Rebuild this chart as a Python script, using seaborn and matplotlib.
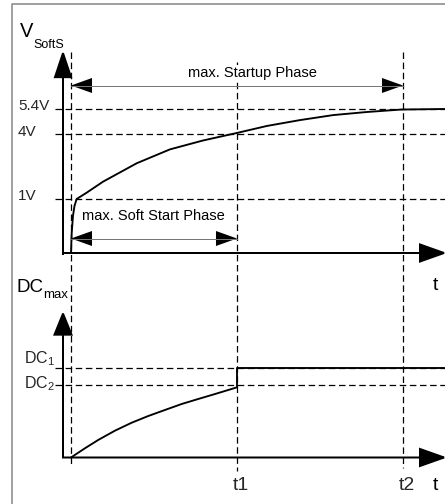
import numpy as np
import pandas as pd
import matplotlib
matplotlib.use("Agg")
import matplotlib.pyplot as plt
import matplotlib.transforms as mtransforms
from matplotlib.patches import FancyArrowPatch, ArrowStyle
from matplotlib.lines import Line2D
import seaborn as sns

# --- data ---
# soft-start voltage, time in units of t1
t_soft = [0, 0.004, 0.012, 0.021, 0.034, 0.096, 0.193, 0.396, 0.596, 0.795,
          1.0, 1.18, 1.38, 1.58, 1.78, 1.99, 2.25]
v_soft = [0, 0.36, 0.69, 0.87, 1.0, 1.30, 1.80, 2.65, 3.29, 3.70,
          4.06, 4.45, 4.78, 5.06, 5.23, 5.37, 5.4]
v_levels = [5.4, 4, 1]
v_labels = ["5.4V", "4V", "1V"]

# max duty cycle, relative to DC1
t_dc = [0, 0.084, 0.164, 0.265, 0.366, 0.466, 0.566, 0.667, 0.767, 0.867,
        1.0, 1.0, 2.25]
dc_max = [0, 0.103, 0.196, 0.30, 0.389, 0.464, 0.531, 0.598, 0.654, 0.709,
          0.784, 1.0, 1.0]
dc_levels = [1.0, 0.81]
dc_labels = [r"$\mathregular{DC_1}$", r"$\mathregular{DC_2}$"]

t_marks = [0, 1, 2]
t_labels = ["", "t1", "t2"]

# --- layout ---
W, H = 445, 504
T0_PX, T_PX = 71, 166          # pixel of t=0 and pixels per t1
PT = 0.72                      # points per pixel at 100 dpi

sns.set_theme(style="white")
plt.rcParams["font.family"] = ["Liberation Sans", "DejaVu Sans"]

# schematic (non linear) voltage axis: volts -> pixels above the time axis
V_KNOTS = [0, 1, 4, 5.4]
H_KNOTS = [0, 54, 119, 144]
SLOPE_HI = (H_KNOTS[3] - H_KNOTS[2]) / (V_KNOTS[3] - V_KNOTS[2])


def v_to_h(v):
    v = np.asarray(v, dtype=float)
    h = np.interp(v, V_KNOTS, H_KNOTS)
    h = np.where(v < 0, v * H_KNOTS[1], h)
    return np.where(v > V_KNOTS[3], H_KNOTS[3] + (v - V_KNOTS[3]) * SLOPE_HI, h)


def h_to_v(h):
    h = np.asarray(h, dtype=float)
    v = np.interp(h, H_KNOTS, V_KNOTS)
    v = np.where(h < 0, h / H_KNOTS[1], v)
    return np.where(h > H_KNOTS[3], V_KNOTS[3] + (h - H_KNOTS[3]) / SLOPE_HI, v)


fig = plt.figure(figsize=(W / 100, H / 100), dpi=100)
fig.patch.set_facecolor("white")
img = mtransforms.Affine2D().scale(1 / W, -1 / H).translate(0, 1) + fig.transFigure


def rect(top, bottom):
    return [0, 1 - bottom / H, 1, (bottom - top) / H]


ax_v = fig.add_axes(rect(30, 262))
ax_d = fig.add_axes(rect(262, 490))
xlim = (-T0_PX / T_PX, (W - T0_PX) / T_PX)

ax_v.set_yscale("function", functions=(v_to_h, h_to_v))
ax_v.set_xlim(*xlim)
ax_v.set_ylim(float(h_to_v(253 - 262)), float(h_to_v(253 - 30)))
ax_d.set_xlim(*xlim)
ax_d.set_ylim(-(490 - 457.5) / 89.5, (457.5 - 262) / 89.5)
for ax in (ax_v, ax_d):
    ax.set_facecolor("none")
    ax.set_axis_off()

dash = dict(color="black", lw=0.9, linestyle=(0, (5.2, 2.9)))

# level lines
for lv in v_levels:
    ax_v.axhline(lv, xmin=55 / W, xmax=1, **dash)
for lv in dc_levels:
    ax_d.axhline(lv, xmin=55 / W, xmax=1, **dash)

# traces
soft = pd.DataFrame({"t": t_soft, "v": v_soft})
dcdf = pd.DataFrame({"t": t_dc, "dc": dc_max})
sns.lineplot(data=soft, x="t", y="v", ax=ax_v, estimator=None, sort=False,
             color="black", lw=1.35)
sns.lineplot(data=dcdf, x="t", y="dc", ax=ax_d, estimator=None, sort=False,
             color="black", lw=1.35)

# vertical time markers across both panels
blend = mtransforms.blended_transform_factory(ax_v.transData, img)
for tm, (y0, y1) in zip(t_marks, [(52, 464), (62, 471), (52, 468)]):
    fig.add_artist(Line2D([tm, tm], [y0, y1], transform=blend, **dash))


def arrow(p0, p1, tr, hl, hw, lw=2.0, style="-|>", color="black"):
    fig.add_artist(FancyArrowPatch(
        p0, p1, transform=tr, mutation_scale=1, shrinkA=0, shrinkB=0,
        arrowstyle=ArrowStyle(style, head_length=hl * PT, head_width=hw * PT),
        lw=lw * PT, color=color, joinstyle="miter", capstyle="butt"))


# axes with arrow heads
arrow((63, 255), (63, 50), img, 24, 8)
arrow((62, 253), (447, 253), img, 24, 8.5)
arrow((63, 458), (63, 311), img, 21, 8.5)
arrow((62, 457.5), (447, 457.5), img, 24, 8.5)

# phase arrows: thin grey shaft, black heads
for (ta, tb), y in [((0, 2), 85.5), ((0, 1), 238.5)]:
    fig.add_artist(Line2D([ta, tb], [y, y], transform=blend, color="#777777", lw=1.0 * PT))
    arrow((ta, y), (tb, y), blend, 21, 7.5, lw=0.01, style="<|-|>")

# texts
txt = dict(transform=img, color="black", va="baseline")
fig.text(252.5, 76.5, "max. Startup Phase", ha="center", size=10.5,
         bbox=dict(fc="white", ec="none", pad=0.5), **txt)
fig.text(153.5, 220, "max. Soft Start Phase", ha="center", size=10.5, **txt)
fig.text(19.5, 37, "V", ha="left", size=14.5, **txt)
fig.text(33, 47.5, "SoftS", ha="left", size=9, **txt)
fig.text(17, 292, "DC", ha="left", size=13.5, **txt)
fig.text(43.5, 297.5, "max", ha="left", size=9.5, **txt)
for yb in (290, 490):
    fig.text(435.5, yb, "t", ha="center", size=14, **txt)

lab_v = mtransforms.blended_transform_factory(ax_v.transAxes, ax_v.transData)
for lv, lab in zip(v_levels, v_labels):
    ax_v.annotate(lab, (18 / W, lv), xycoords=lab_v, xytext=(0, -1.5 * PT),
                  textcoords="offset points", ha="left", va="baseline", size=11)

lab_d = mtransforms.blended_transform_factory(ax_d.transAxes, ax_d.transData)
for lv, lab, off in zip(dc_levels, dc_labels, (5, -3)):
    ax_d.annotate(lab, (24 / W, lv), xycoords=lab_d, xytext=(0, off * PT),
                  textcoords="offset points", ha="left", va="baseline", size=11.5)

lab_t = mtransforms.blended_transform_factory(ax_d.transData, img)
for tm, lab in zip(t_marks, t_labels):
    if lab:
        ax_d.annotate(lab, (tm, 490), xycoords=lab_t, xytext=(3.5 * PT, 0),
                      textcoords="offset points", ha="center", va="baseline", size=14)

# grey frame
fig.add_artist(Line2D([12, 12, W], [H, 4, 4], transform=img, color="#8a8a8a", lw=1.6 * PT))

fig.savefig("out.png", dpi=100)
